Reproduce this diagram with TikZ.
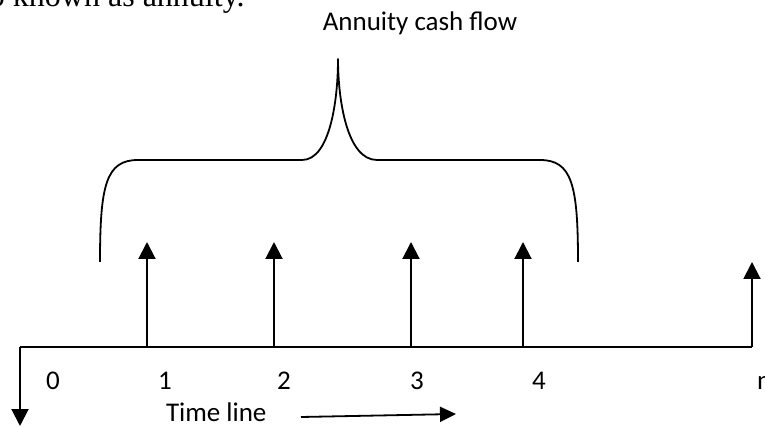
\documentclass[tikz,border=0pt]{standalone}
\usepackage{fontspec}
\setmainfont{Carlito}
\newfontfamily\pageserif{Liberation Serif}
\usetikzlibrary{arrows.meta}
\tikzset{
  every node/.style={inner sep=0pt, outer sep=0pt},
  lbl/.style={anchor=base, font=\fontsize{27}{32}\selectfont},
  axis/.style={line width=2pt},
  cash/.style={line width=2pt, -{Triangle[width=17pt,length=17pt]}},
  brace/.style={line width=1.8pt, line join=round},
}
\begin{document}
\begin{tikzpicture}[x=1pt,y=-1pt]
\useasboundingbox (0,0) rectangle (765,427);
\clip (0,0) rectangle (765,427);
% cropped page text
\node[anchor=base west, font=\pageserif\fontsize{32}{38}\selectfont] (pagetext) at (-11,7) {o known as annuity.};
% title
\node[lbl] (title) at (420,31) {Annuity cash flow};
% time line
\coordinate (t0) at (20,347);
\coordinate (tn) at (752,347);
\coordinate (down) at (20,426);
\draw[axis] (down |- t0) -- (tn);
\draw[cash] (t0) -- (down);
% cash flows
\foreach \i/\x/\h in {1/147/242, 2/274/242, 3/411/242, 4/523/242, n/752/262}{
  \coordinate (b\i) at (\x,347);
  \coordinate (h\i) at (\x,\h);
  \draw[cash] (b\i) -- (h\i);
}
% period labels
\node[lbl] (l0) at (53,389) {0};
\node[lbl] (l1) at (165,389) {1};
\node[lbl] (l2) at (284,389) {2};
\node[lbl] (l3) at (417,389) {3};
\node[lbl] (l4) at (539,389) {4};
\node[lbl, anchor=base west] (ln) at (757,389) {n};
% time line caption
\node[lbl, anchor=base west] (tl) at (166,421) {Time line};
\coordinate (ta) at (301,417);
\coordinate (tb) at (456,414);
\draw[line width=1.8pt, -{Triangle[width=15pt,length=16pt]}] (ta) -- (tb);
% brace
\coordinate (bl) at (100,262);
\coordinate (br) at (578,262);
\coordinate (peak) at (338,59);
\draw[brace] (bl) .. controls (100,185) and (106,160) .. (138,160)
  -- (302,160) .. controls (330,160) and (338,100) .. (peak)
  .. controls (338,100) and (347,160) .. (377,160)
  -- (540,160) .. controls (572,160) and (578,185) .. (br);
\end{tikzpicture}
\end{document}
